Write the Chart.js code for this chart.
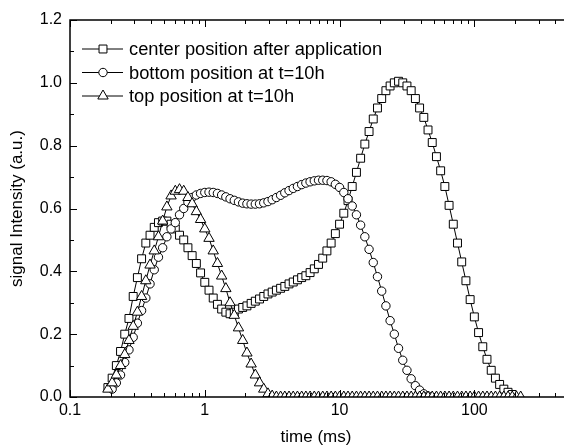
<!DOCTYPE html>
<html>
<head>
<meta charset="utf-8">
<script src="https://cdn.jsdelivr.net/npm/chart.js@4.4.1/dist/chart.umd.min.js"></script>
<style>
  html, body { margin: 0; padding: 0; background: #fff; }
  #wrap { width: 569px; height: 446px; }
</style>
</head>
<body>
<div id="wrap"><canvas id="chart" width="569" height="446"></canvas></div>
<script>
// relaxation time (ms), log spaced
const times = [
  0.1911, 0.2054, 0.2207, 0.2371, 0.2548, 0.2738, 0.2943, 0.3162, 0.3398, 0.3652,
  0.3924, 0.4217, 0.4532, 0.4870, 0.5233, 0.5623, 0.6043, 0.6494, 0.6978, 0.7499,
  0.8058, 0.8660, 0.9306, 1.000, 1.075, 1.155, 1.241, 1.334, 1.433, 1.540,
  1.655, 1.778, 1.911, 2.054, 2.207, 2.371, 2.548, 2.738, 2.943, 3.162,
  3.398, 3.652, 3.924, 4.217, 4.532, 4.870, 5.233, 5.623, 6.043, 6.494,
  6.978, 7.499, 8.058, 8.660, 9.306, 10.00, 10.75, 11.55, 12.41, 13.34,
  14.33, 15.40, 16.55, 17.78, 19.11, 20.54, 22.07, 23.71, 25.48, 27.38,
  29.43, 31.62, 33.98, 36.52, 39.24, 42.17, 45.32, 48.70, 52.33, 56.23,
  60.43, 64.94, 69.78, 74.99, 80.58, 86.60, 93.06, 100.0, 107.5, 115.5,
  124.1, 133.4, 143.3, 154.0, 165.5, 177.8, 191.1, 205.4, 220.7
];

const centerApp = [
  0.03, 0.06, 0.10, 0.145, 0.20, 0.25, 0.32, 0.38, 0.44, 0.49,
  0.515, 0.54, 0.555, 0.56, 0.56, 0.55, 0.535, 0.515, 0.50, 0.475,
  0.45, 0.425, 0.395, 0.365, 0.34, 0.315, 0.295, 0.28, 0.27, 0.265,
  0.27, 0.28, 0.285, 0.29, 0.298, 0.305, 0.312, 0.32, 0.328, 0.334,
  0.34, 0.346, 0.352, 0.36, 0.366, 0.373, 0.38, 0.386, 0.396, 0.408,
  0.422, 0.442, 0.465, 0.49, 0.52, 0.55, 0.585, 0.625, 0.67, 0.715,
  0.76, 0.805, 0.845, 0.885, 0.92, 0.95, 0.975, 0.99, 1.0, 1.005,
  1.0, 0.99, 0.975, 0.95, 0.92, 0.89, 0.85, 0.81, 0.765, 0.72,
  0.67, 0.61, 0.55, 0.49, 0.43, 0.37, 0.31, 0.255, 0.205, 0.16,
  0.12, 0.085, 0.06, 0.04, 0.025, 0.015, 0.008, null, null
];

const bottom10h = [
  null, 0.025, 0.045, 0.07, 0.11, 0.15, 0.19, 0.235, 0.275, 0.315,
  0.36, 0.405, 0.445, 0.475, 0.51, 0.535, 0.555, 0.58, 0.60, 0.62,
  0.635, 0.643, 0.648, 0.651, 0.652, 0.651, 0.648, 0.643, 0.637, 0.631,
  0.626, 0.621, 0.617, 0.615, 0.614, 0.614, 0.615, 0.618, 0.622, 0.628,
  0.635, 0.642, 0.65, 0.657, 0.664, 0.67, 0.676, 0.681, 0.685, 0.688,
  0.69, 0.69, 0.689, 0.685, 0.677, 0.667, 0.651, 0.631, 0.608, 0.58,
  0.547, 0.51, 0.47, 0.428, 0.383, 0.337, 0.29, 0.243, 0.2, 0.155,
  0.117, 0.085, 0.058, 0.036, 0.022, 0.01, 0.003, null, null, null,
  null, null, null, null, null, null, null, null, null, null,
  null, null, null, null, null, null, null, null, null
];

const top10h = [
  0.025, 0.045, 0.07, 0.10, 0.135, 0.18, 0.225, 0.27, 0.32, 0.37,
  0.42, 0.465, 0.51, 0.56, 0.605, 0.64, 0.655, 0.66, 0.655, 0.635,
  0.615, 0.59, 0.565, 0.535, 0.505, 0.465, 0.425, 0.385, 0.345, 0.30,
  0.26, 0.22, 0.18, 0.14, 0.105, 0.07, 0.045, 0.025, 0.01, 0.003,
  0, 0, 0, 0, 0, 0, 0, 0, 0, 0,
  0, 0, 0, 0, 0, 0, 0, 0, 0, 0,
  0, 0, 0, 0, 0, 0, 0, 0, 0, 0,
  0, 0, 0, 0, 0, 0, 0, 0, 0, 0,
  0, 0, 0, 0, 0, 0, 0, 0, 0, 0,
  0, 0, 0, 0, 0, 0, 0, 0, 0
];

const seriesNames = ['center position after application', 'bottom position at t=10h', 'top position at t=10h'];
const xLabelValues = [0.1, 1, 10, 100];

const FONT = '"Liberation Sans", Arial, Helvetica, sans-serif';

function pts(ys) {
  return times.map((t, i) => ({ x: t, y: ys[i] }));
}

function marker(ctx, style, r, x, y) {
  ctx.beginPath();
  if (style === 'rect') {
    const s = r * Math.SQRT1_2;
    ctx.rect(x - s, y - s, 2 * s, 2 * s);
  } else if (style === 'circle') {
    ctx.arc(x, y, r, 0, Math.PI * 2);
  } else {
    for (let k = 0; k < 3; k++) {
      const a = k * 2 * Math.PI / 3;
      const px = x + Math.sin(a) * r, py = y - Math.cos(a) * r;
      if (k === 0) ctx.moveTo(px, py); else ctx.lineTo(px, py);
    }
    ctx.closePath();
  }
  ctx.fill();
  ctx.stroke();
}

// frame with inward ticks on bottom/top/left
const frameTicks = {
  id: 'frameTicks',
  afterDatasetsDraw(chart) {
    const { ctx, chartArea: a, scales: { x, y } } = chart;
    ctx.save();
    ctx.strokeStyle = '#000';
    ctx.lineWidth = 1.5;
    ctx.beginPath();
    ctx.moveTo(a.right + 2, a.top);
    ctx.lineTo(a.left, a.top);
    ctx.lineTo(a.left, a.bottom);
    ctx.lineTo(a.right + 2, a.bottom);
    ctx.stroke();
    ctx.lineWidth = 1;
    ctx.beginPath();
    for (let d = 0.1; d < 1000; d *= 10) {
      for (let m = 1; m < 10; m++) {
        const v = d * m;
        if (v > x.max) break;
        const px = Math.round(x.getPixelForValue(v)) + 0.5;
        const len = m === 1 ? 7 : 4;
        ctx.moveTo(px, a.bottom);
        ctx.lineTo(px, a.bottom - len);
        ctx.moveTo(px, a.top);
        ctx.lineTo(px, a.top + len);
      }
    }
    for (let i = 0; i <= 12; i++) {
      const py = Math.round(y.getPixelForValue(i / 10)) + 0.5;
      const len = i % 2 === 0 ? 7 : 4;
      ctx.moveTo(a.left, py);
      ctx.lineTo(a.left + len, py);
    }
    ctx.stroke();
    ctx.restore();
  }
};

// legend inside the plot, "-o-" style symbols
const innerLegend = {
  id: 'innerLegend',
  afterDraw(chart) {
    const ctx = chart.ctx;
    ctx.save();
    ctx.font = '18.3px ' + FONT;
    ctx.textBaseline = 'middle';
    chart.data.datasets.forEach((ds, i) => {
      const yy = 49 + i * 23.5;
      ctx.strokeStyle = '#000';
      ctx.lineWidth = 1;
      ctx.beginPath();
      ctx.moveTo(82, yy);
      ctx.lineTo(123, yy);
      ctx.stroke();
      ctx.fillStyle = '#fff';
      marker(ctx, ds.pointStyle, ds.pointRadius, 103, yy);
      ctx.fillStyle = '#000';
      ctx.fillText(ds.label, 129, yy + 1);
    });
    ctx.restore();
  }
};

function ds(label, ys, style, r, order) {
  return {
    label: label,
    data: pts(ys),
    borderColor: '#000',
    borderWidth: 1,
    pointStyle: style,
    pointRadius: r,
    pointBackgroundColor: '#fff',
    pointBorderColor: '#000',
    pointBorderWidth: 1,
    pointHoverRadius: r,
    order: order
  };
}

new Chart(document.getElementById('chart'), {
  type: 'line',
  data: {
    datasets: [
      ds(seriesNames[0], centerApp, 'rect', 5.6, 3),
      ds(seriesNames[1], bottom10h, 'circle', 4.2, 2),
      ds(seriesNames[2], top10h, 'triangle', 6, 1)
    ]
  },
  options: {
    responsive: false,
    animation: false,
    devicePixelRatio: 1,
    layout: { padding: { top: 20, right: 0, left: 0, bottom: 0 } },
    plugins: { legend: { display: false }, tooltip: { enabled: false } },
    scales: {
      x: {
        type: 'logarithmic',
        min: 0.1,
        max: 447,
        afterFit(s) { s.height = 49; },
        grid: { display: false, drawTicks: false },
        border: { display: false },
        ticks: {
          autoSkip: false,
          maxRotation: 0,
          padding: 4,
          color: '#000',
          font: { family: FONT, size: 16 },
          callback(v) {
            const hit = xLabelValues.find(t => Math.abs(t - v) / t < 1e-6);
            return hit === undefined ? '' : String(hit);
          }
        },
        title: {
          display: true,
          text: 'time (ms)',
          color: '#000',
          font: { family: FONT, size: 17, lineHeight: 1 },
          padding: 0
        }
      },
      y: {
        min: 0,
        max: 1.2,
        afterFit(s) { s.width = 70; },
        grid: { display: false, drawTicks: false },
        border: { display: false },
        ticks: {
          stepSize: 0.2,
          padding: 8,
          color: '#000',
          font: { family: FONT, size: 16 },
          callback: v => v.toFixed(1)
        },
        title: {
          display: true,
          text: 'signal Intensity (a.u.)',
          color: '#000',
          font: { family: FONT, size: 17, lineHeight: 1.2 },
          padding: { top: 7, bottom: 0 }
        }
      }
    }
  },
  plugins: [frameTicks, innerLegend]
});
</script>
</body>
</html>
